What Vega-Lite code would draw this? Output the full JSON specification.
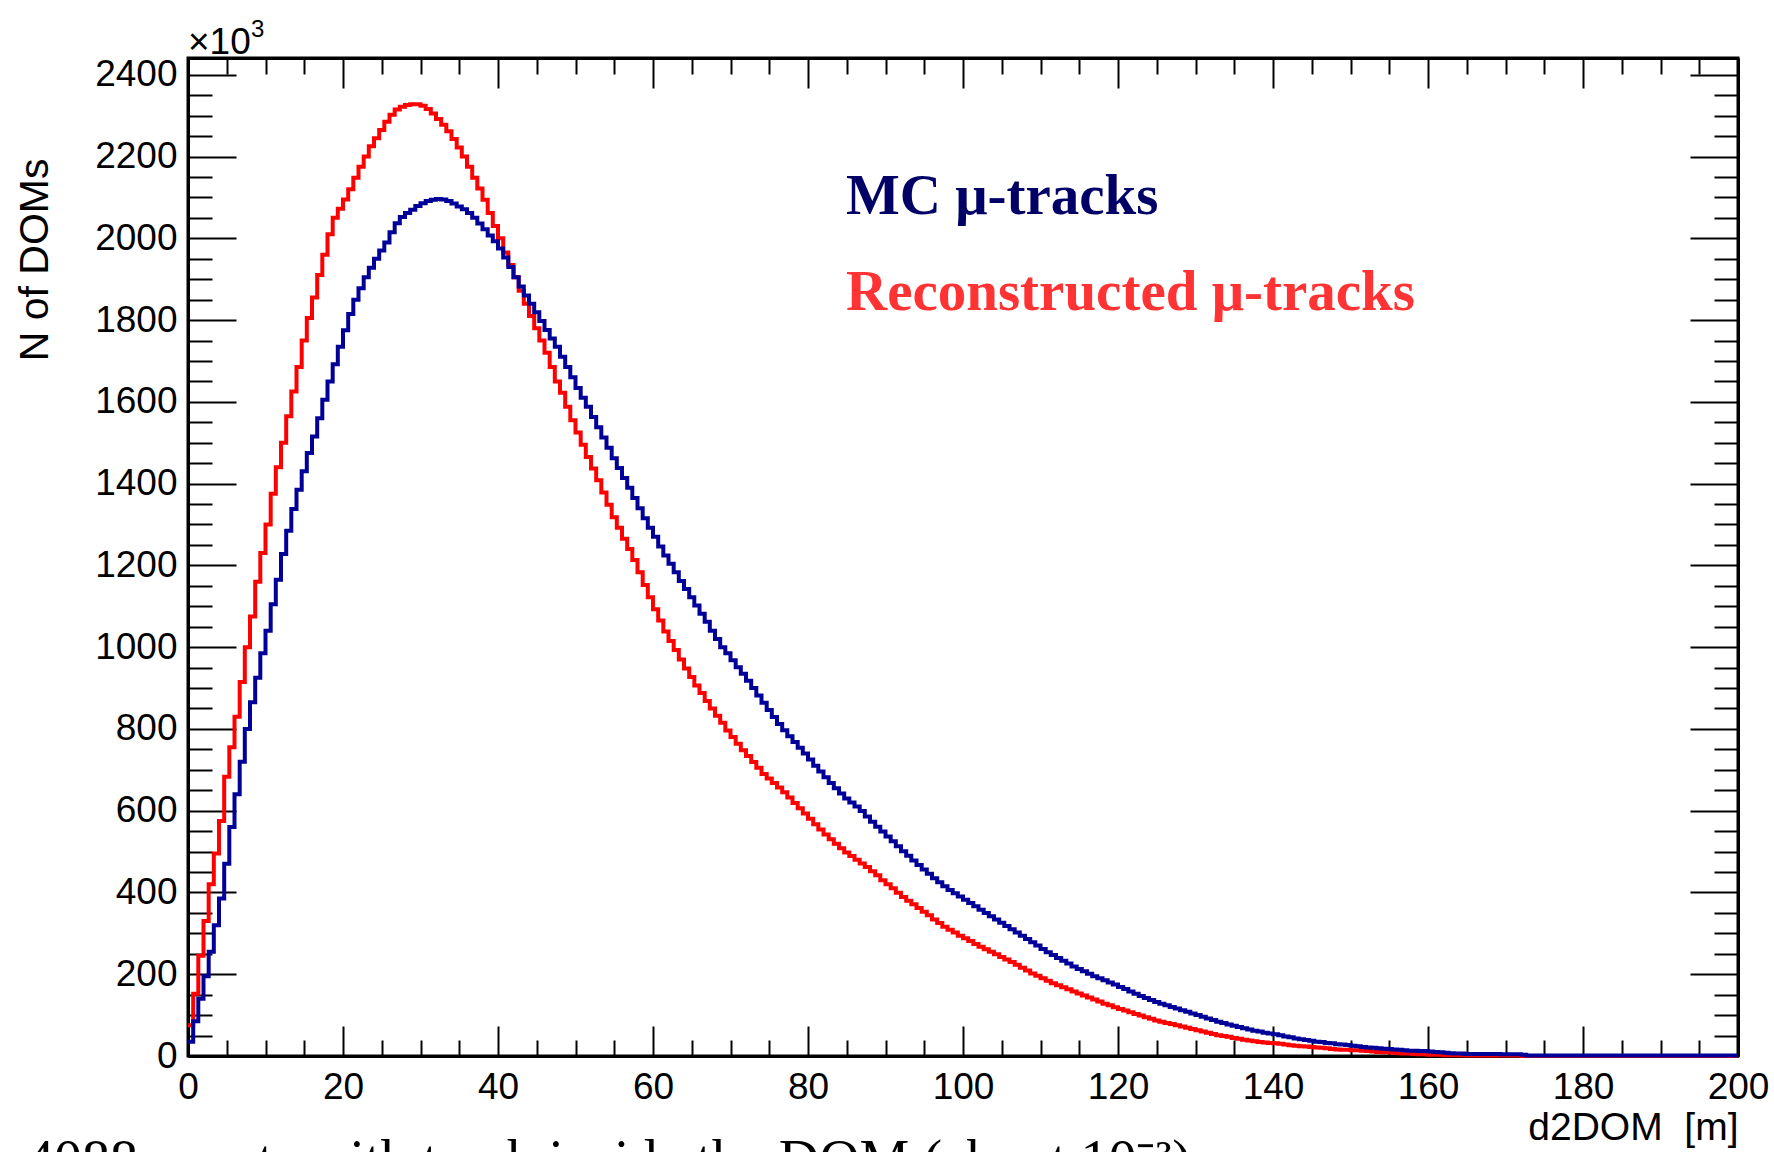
{
"$schema": "https://vega.github.io/schema/vega-lite/v6.json",
"width": 1550,
"height": 998,
"autosize": {"type": "none"},
"padding": {"left": 188, "top": 58, "right": 36, "bottom": 96},
"background": "#ffffff",
"config": {
  "view": {"stroke": "#000000", "strokeWidth": 3},
  "axis": {"grid": false, "domainColor": "#000000", "domainWidth": 3, "tickColor": "#000000", "tickWidth": 2, "labelColor": "#000000", "titleColor": "#000000", "labelFont": "Liberation Sans", "titleFont": "Liberation Sans", "titleFontWeight": "normal", "labelFlush": false, "labelOverlap": false, "labelBound": false}
},
"data": {"values": [
{"x":0,"r":75,"b":35},{"x":0.67,"r":152,"b":85},{"x":1.33,"r":245,"b":140},
{"x":2,"r":330,"b":195},{"x":2.67,"r":420,"b":255},{"x":3.33,"r":495,"b":320},
{"x":4,"r":575,"b":385},{"x":4.67,"r":683,"b":470},{"x":5.33,"r":755,"b":560},
{"x":6,"r":830,"b":640},{"x":6.67,"r":915,"b":720},{"x":7.33,"r":1000,"b":800},
{"x":8,"r":1075,"b":865},{"x":8.67,"r":1160,"b":925},{"x":9.33,"r":1230,"b":985},
{"x":10,"r":1300,"b":1040},{"x":10.67,"r":1375,"b":1105},{"x":11.33,"r":1440,"b":1165},
{"x":12,"r":1500,"b":1228},{"x":12.67,"r":1565,"b":1285},{"x":13.33,"r":1625,"b":1338},
{"x":14,"r":1685,"b":1385},{"x":14.67,"r":1750,"b":1430},{"x":15.33,"r":1805,"b":1475},
{"x":16,"r":1855,"b":1515},{"x":16.67,"r":1910,"b":1560},{"x":17.33,"r":1960,"b":1605},
{"x":18,"r":2010,"b":1650},{"x":18.67,"r":2050,"b":1692},{"x":19.33,"r":2072,"b":1735},
{"x":20,"r":2095,"b":1775},{"x":20.67,"r":2120,"b":1815},{"x":21.33,"r":2148,"b":1850},
{"x":22,"r":2175,"b":1878},{"x":22.67,"r":2200,"b":1905},{"x":23.33,"r":2225,"b":1928},
{"x":24,"r":2245,"b":1950},{"x":24.67,"r":2265,"b":1970},{"x":25.33,"r":2285,"b":1990},
{"x":26,"r":2302,"b":2015},{"x":26.67,"r":2315,"b":2037},{"x":27.33,"r":2322,"b":2052},
{"x":28,"r":2326,"b":2062},{"x":28.67,"r":2328,"b":2070},{"x":29.33,"r":2328,"b":2079},
{"x":30,"r":2324,"b":2086},{"x":30.67,"r":2316,"b":2091},{"x":31.33,"r":2305,"b":2094},
{"x":32,"r":2292,"b":2096},{"x":32.67,"r":2278,"b":2095},{"x":33.33,"r":2262,"b":2091},
{"x":34,"r":2243,"b":2085},{"x":34.67,"r":2222,"b":2078},{"x":35.33,"r":2200,"b":2071},
{"x":36,"r":2175,"b":2062},{"x":36.67,"r":2148,"b":2050},{"x":37.33,"r":2122,"b":2036},
{"x":38,"r":2094,"b":2022},{"x":38.67,"r":2062,"b":2007},{"x":39.33,"r":2030,"b":1993},
{"x":40,"r":2000,"b":1975},{"x":40.67,"r":1965,"b":1953},{"x":41.33,"r":1935,"b":1930},
{"x":42,"r":1905,"b":1905},{"x":42.67,"r":1872,"b":1882},{"x":43.33,"r":1840,"b":1860},
{"x":44,"r":1810,"b":1840},{"x":44.67,"r":1780,"b":1819},{"x":45.33,"r":1750,"b":1798},
{"x":46,"r":1720,"b":1776},{"x":46.67,"r":1685,"b":1755},{"x":47.33,"r":1650,"b":1735},
{"x":48,"r":1622,"b":1710},{"x":48.67,"r":1588,"b":1685},{"x":49.33,"r":1555,"b":1660},
{"x":50,"r":1525,"b":1634},{"x":50.67,"r":1495,"b":1610},{"x":51.33,"r":1465,"b":1588},
{"x":52,"r":1437,"b":1563},{"x":52.67,"r":1408,"b":1538},{"x":53.33,"r":1378,"b":1513},
{"x":54,"r":1348,"b":1488},{"x":54.67,"r":1318,"b":1462},{"x":55.33,"r":1292,"b":1438},
{"x":56,"r":1265,"b":1414},{"x":56.67,"r":1240,"b":1390},{"x":57.33,"r":1213,"b":1365},
{"x":58,"r":1183,"b":1340},{"x":58.67,"r":1152,"b":1315},{"x":59.33,"r":1122,"b":1292},
{"x":60,"r":1093,"b":1270},{"x":60.67,"r":1065,"b":1246},{"x":61.33,"r":1038,"b":1224},
{"x":62,"r":1015,"b":1204},{"x":62.67,"r":993,"b":1183},{"x":63.33,"r":970,"b":1162},
{"x":64,"r":948,"b":1142},{"x":64.67,"r":927,"b":1122},{"x":65.33,"r":906,"b":1102},
{"x":66,"r":888,"b":1082},{"x":66.67,"r":868,"b":1062},{"x":67.33,"r":850,"b":1040},
{"x":68,"r":832,"b":1020},{"x":68.67,"r":815,"b":1000},{"x":69.33,"r":796,"b":985},
{"x":70,"r":780,"b":968},{"x":70.67,"r":764,"b":951},{"x":71.33,"r":748,"b":935},
{"x":72,"r":734,"b":918},{"x":72.67,"r":719,"b":900},{"x":73.33,"r":705,"b":882},
{"x":74,"r":690,"b":864},{"x":74.67,"r":679,"b":846},{"x":75.33,"r":668,"b":829},
{"x":76,"r":657,"b":812},{"x":76.67,"r":645,"b":797},{"x":77.33,"r":632,"b":782},
{"x":78,"r":619,"b":768},{"x":78.67,"r":606,"b":754},{"x":79.33,"r":593,"b":740},
{"x":80,"r":580,"b":725},{"x":80.67,"r":567,"b":710},{"x":81.33,"r":554,"b":696},
{"x":82,"r":542,"b":682},{"x":82.67,"r":530,"b":668},{"x":83.33,"r":519,"b":655},
{"x":84,"r":508,"b":642},{"x":84.67,"r":498,"b":630},{"x":85.33,"r":489,"b":620},
{"x":86,"r":480,"b":610},{"x":86.67,"r":471,"b":599},{"x":87.33,"r":462,"b":586},
{"x":88,"r":452,"b":573},{"x":88.67,"r":442,"b":561},{"x":89.33,"r":430,"b":549},
{"x":90,"r":420,"b":537},{"x":90.67,"r":410,"b":525},{"x":91.33,"r":399,"b":513},
{"x":92,"r":389,"b":501},{"x":92.67,"r":380,"b":490},{"x":93.33,"r":371,"b":478},
{"x":94,"r":362,"b":467},{"x":94.67,"r":353,"b":456},{"x":95.33,"r":344,"b":446},
{"x":96,"r":334,"b":435},{"x":96.67,"r":325,"b":425},{"x":97.33,"r":316,"b":415},
{"x":98,"r":309,"b":406},{"x":98.67,"r":302,"b":398},{"x":99.33,"r":294,"b":390},
{"x":100,"r":288,"b":382},{"x":100.67,"r":281,"b":374},{"x":101.33,"r":274,"b":366},
{"x":102,"r":267,"b":358},{"x":102.67,"r":261,"b":350},{"x":103.33,"r":255,"b":342},
{"x":104,"r":249,"b":334},{"x":104.67,"r":242,"b":326},{"x":105.33,"r":236,"b":318},
{"x":106,"r":230,"b":310},{"x":106.67,"r":223,"b":302},{"x":107.33,"r":216,"b":294},
{"x":108,"r":209,"b":286},{"x":108.67,"r":202,"b":278},{"x":109.33,"r":196,"b":270},
{"x":110,"r":190,"b":262},{"x":110.67,"r":184,"b":254},{"x":111.33,"r":178,"b":247},
{"x":112,"r":173,"b":240},{"x":112.67,"r":168,"b":233},{"x":113.33,"r":163,"b":226},
{"x":114,"r":158,"b":219},{"x":114.67,"r":153,"b":213},{"x":115.33,"r":148,"b":207},
{"x":116,"r":143,"b":201},{"x":116.67,"r":138,"b":195},{"x":117.33,"r":133,"b":190},
{"x":118,"r":128,"b":185},{"x":118.67,"r":124,"b":180},{"x":119.33,"r":119,"b":175},
{"x":120,"r":115,"b":169},{"x":120.67,"r":111,"b":164},{"x":121.33,"r":107,"b":158},
{"x":122,"r":103,"b":152},{"x":122.67,"r":99,"b":147},{"x":123.33,"r":95,"b":142},
{"x":124,"r":91,"b":137},{"x":124.67,"r":87,"b":132},{"x":125.33,"r":84,"b":128},
{"x":126,"r":81,"b":124},{"x":126.67,"r":78,"b":120},{"x":127.33,"r":75,"b":116},
{"x":128,"r":72,"b":112},{"x":128.67,"r":69,"b":108},{"x":129.33,"r":66,"b":104},
{"x":130,"r":63,"b":100},{"x":130.67,"r":60,"b":96},{"x":131.33,"r":57,"b":92},
{"x":132,"r":54,"b":88},{"x":132.67,"r":51,"b":84},{"x":133.33,"r":49,"b":81},
{"x":134,"r":47,"b":77},{"x":134.67,"r":44,"b":74},{"x":135.33,"r":42,"b":71},
{"x":136,"r":40,"b":68},{"x":136.67,"r":38,"b":65},{"x":137.33,"r":36,"b":62},
{"x":138,"r":34,"b":60},{"x":138.67,"r":33,"b":57},{"x":139.33,"r":32,"b":55},
{"x":140,"r":31,"b":53},{"x":140.67,"r":30,"b":51},{"x":141.33,"r":28,"b":48},
{"x":142,"r":26,"b":46},{"x":142.67,"r":25,"b":43},{"x":143.33,"r":24,"b":41},
{"x":144,"r":23,"b":39},{"x":144.67,"r":22,"b":37},{"x":145.33,"r":21,"b":35},
{"x":146,"r":20,"b":34},{"x":146.67,"r":19,"b":32},{"x":147.33,"r":17,"b":31},
{"x":148,"r":16,"b":29},{"x":148.67,"r":15,"b":28},{"x":149.33,"r":15,"b":27},
{"x":150,"r":14,"b":25},{"x":150.67,"r":14,"b":24},{"x":151.33,"r":13,"b":22},
{"x":152,"r":12,"b":21},{"x":152.67,"r":11,"b":20},{"x":153.33,"r":10,"b":19},
{"x":154,"r":9,"b":18},{"x":154.67,"r":9,"b":17},{"x":155.33,"r":8,"b":16},
{"x":156,"r":7,"b":15},{"x":156.67,"r":6,"b":14},{"x":157.33,"r":6,"b":13},
{"x":158,"r":5,"b":13},{"x":158.67,"r":4,"b":12},{"x":159.33,"r":4,"b":12},
{"x":160,"r":3,"b":11},{"x":160.67,"r":3,"b":10},{"x":161.33,"r":3,"b":9},
{"x":162,"r":2,"b":8},{"x":162.67,"r":2,"b":7},{"x":163.33,"r":2,"b":6},
{"x":164,"r":2,"b":6},{"x":164.67,"r":1,"b":5},{"x":165.33,"r":1,"b":5},
{"x":166,"r":1,"b":5},{"x":166.67,"r":1,"b":5},{"x":167.33,"r":1,"b":5},
{"x":168,"r":1,"b":5},{"x":168.67,"r":1,"b":5},{"x":169.33,"r":1,"b":4},
{"x":170,"r":1,"b":4},{"x":170.67,"r":1,"b":4},{"x":171.33,"r":1,"b":4},
{"x":172,"r":0,"b":3},{"x":172.67,"r":0,"b":1},{"x":173.33,"r":0,"b":1},
{"x":174,"r":0,"b":1},{"x":174.67,"r":0,"b":1},{"x":175.33,"r":0,"b":1},
{"x":176,"r":0,"b":1},{"x":176.67,"r":0,"b":1},{"x":177.33,"r":0,"b":1},
{"x":178,"r":0,"b":1},{"x":178.67,"r":0,"b":1},{"x":179.33,"r":0,"b":1},
{"x":180,"r":0,"b":1},{"x":180.67,"r":0,"b":1},{"x":181.33,"r":0,"b":1},
{"x":182,"r":0,"b":1},{"x":182.67,"r":0,"b":1},{"x":183.33,"r":0,"b":1},
{"x":184,"r":0,"b":1},{"x":184.67,"r":0,"b":1},{"x":185.33,"r":0,"b":1},
{"x":186,"r":0,"b":1},{"x":186.67,"r":0,"b":1},{"x":187.33,"r":0,"b":1},
{"x":188,"r":0,"b":1},{"x":188.67,"r":0,"b":1},{"x":189.33,"r":0,"b":1},
{"x":190,"r":0,"b":1},{"x":190.67,"r":0,"b":1},{"x":191.33,"r":0,"b":1},
{"x":192,"r":0,"b":1},{"x":192.67,"r":0,"b":1},{"x":193.33,"r":0,"b":1},
{"x":194,"r":0,"b":1},{"x":194.67,"r":0,"b":1},{"x":195.33,"r":0,"b":1},
{"x":196,"r":0,"b":1},{"x":196.67,"r":0,"b":1},{"x":197.33,"r":0,"b":1},
{"x":198,"r":0,"b":1},{"x":198.67,"r":0,"b":1},{"x":199.33,"r":0,"b":1},
{"x":200,"r":0,"b":1}
]},
"layer": [
  {
    "mark": {"type": "line", "interpolate": "step-after", "color": "#ff0000", "strokeWidth": 4},
    "encoding": {
      "x": {"field": "x", "type": "quantitative",
        "scale": {"domain": [0, 200], "nice": false, "zero": false},
        "axis": {"orient": "bottom", "format": "d",
          "values": [0,5,10,15,20,25,30,35,40,45,50,55,60,65,70,75,80,85,90,95,100,105,110,115,120,125,130,135,140,145,150,155,160,165,170,175,180,185,190,195,200],
          "labelExpr": "datum.value % 20 === 0 ? datum.label : ''",
          "tickSize": {"condition": {"test": "datum.value % 20 === 0", "value": -30}, "value": -16},
          "labelPadding": 43, "labelFontSize": 37,
          "title": "d2DOM\u00a0 [m]", "titleFontSize": 39, "titleAnchor": "end", "titleAlign": "right",
          "titleX": 1550, "titleY": 83, "titleBaseline": "alphabetic"}},
      "y": {"field": "r", "type": "quantitative",
        "scale": {"domain": [0, 2441], "nice": false},
        "axis": {"orient": "left", "format": "d",
          "values": [0,50,100,150,200,250,300,350,400,450,500,550,600,650,700,750,800,850,900,950,1000,1050,1100,1150,1200,1250,1300,1350,1400,1450,1500,1550,1600,1650,1700,1750,1800,1850,1900,1950,2000,2050,2100,2150,2200,2250,2300,2350,2400],
          "labelExpr": "datum.value % 200 === 0 ? datum.label : ''",
          "tickSize": {"condition": {"test": "datum.value % 200 === 0", "value": -48}, "value": -24},
          "labelPadding": 59, "labelFontSize": 37,
          "title": "N of DOMs", "titleFontSize": 41, "titleAngle": -90, "titleAlign": "right",
          "titleX": -141, "titleY": 100, "titleBaseline": "alphabetic", "titleAnchor": null}}
    }
  },
  {
    "mark": {"type": "line", "interpolate": "step-after", "color": "#000099", "strokeWidth": 4},
    "encoding": {
      "x": {"field": "x", "type": "quantitative",
        "axis": {"orient": "top", "labels": false, "title": null,
          "values": [0,5,10,15,20,25,30,35,40,45,50,55,60,65,70,75,80,85,90,95,100,105,110,115,120,125,130,135,140,145,150,155,160,165,170,175,180,185,190,195,200],
          "tickSize": {"condition": {"test": "datum.value % 20 === 0", "value": -30}, "value": -16}}},
      "y": {"field": "b", "type": "quantitative",
        "axis": {"orient": "right", "labels": false, "title": null,
          "values": [0,50,100,150,200,250,300,350,400,450,500,550,600,650,700,750,800,850,900,950,1000,1050,1100,1150,1200,1250,1300,1350,1400,1450,1500,1550,1600,1650,1700,1750,1800,1850,1900,1950,2000,2050,2100,2150,2200,2250,2300,2350,2400],
          "tickSize": {"condition": {"test": "datum.value % 200 === 0", "value": -48}, "value": -24}}}
    }
  },
  {
    "data": {"values": [{}]},
    "mark": {"type": "text", "text": "MC μ-tracks", "font": "Liberation Serif", "fontWeight": "bold", "fontSize": 57, "color": "#000066", "align": "left", "baseline": "alphabetic"},
    "encoding": {"x": {"datum": 84.9, "type": "quantitative", "axis": null}, "y": {"datum": 2060, "type": "quantitative", "axis": null}}
  },
  {
    "data": {"values": [{}]},
    "mark": {"type": "text", "text": "Reconstructed μ-tracks", "font": "Liberation Serif", "fontWeight": "bold", "fontSize": 57, "color": "#ff3333", "align": "left", "baseline": "alphabetic"},
    "encoding": {"x": {"datum": 84.9, "type": "quantitative", "axis": null}, "y": {"datum": 1825, "type": "quantitative", "axis": null}}
  },
  {
    "data": {"values": [{}]},
    "mark": {"type": "text", "text": "×10", "font": "Liberation Sans", "fontSize": 37, "color": "#000000", "align": "left", "baseline": "alphabetic", "dy": -4},
    "encoding": {"x": {"datum": 0, "type": "quantitative", "axis": null}, "y": {"datum": 2441, "type": "quantitative", "axis": null}}
  },
  {
    "data": {"values": [{}]},
    "mark": {"type": "text", "text": "3", "font": "Liberation Sans", "fontSize": 24, "color": "#000000", "align": "left", "baseline": "alphabetic", "dx": 63, "dy": -21},
    "encoding": {"x": {"datum": 0, "type": "quantitative", "axis": null}, "y": {"datum": 2441, "type": "quantitative", "axis": null}}
  },
  {
    "data": {"values": [{}]},
    "mark": {"type": "text", "text": "4088 events with track inside the DOM (about 10⁻³)", "font": "Liberation Serif", "fontSize": 56, "color": "#000000", "align": "left", "baseline": "alphabetic", "dx": -162, "dy": 123},
    "encoding": {"x": {"datum": 0, "type": "quantitative", "axis": null}, "y": {"datum": 0, "type": "quantitative", "axis": null}}
  }
],
"resolve": {"axis": {"x": "independent", "y": "independent"}}
}
